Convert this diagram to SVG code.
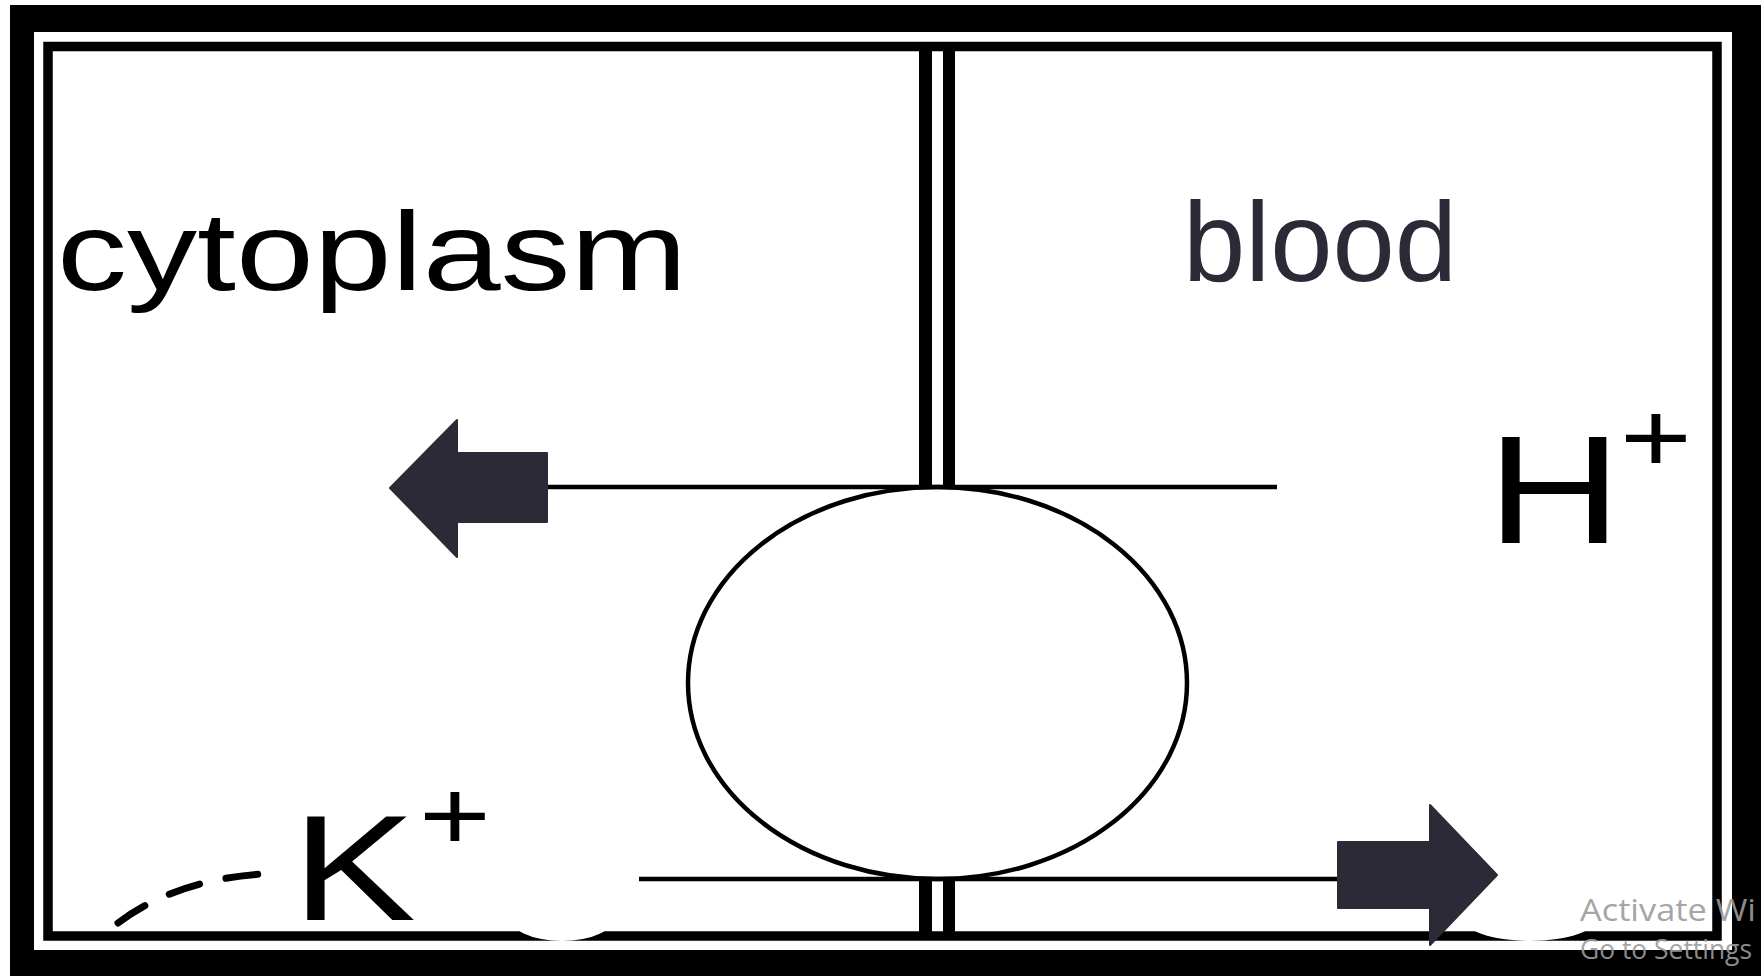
<svg xmlns="http://www.w3.org/2000/svg" width="1764" height="976" viewBox="0 0 1764 976">
  <defs>
    <style>
      .lbl { font-family: "Liberation Sans", Arial, sans-serif; fill: #000; }
      .navy { fill: #2b2a36; }
      .ln { stroke: #000; stroke-width: 4.5; fill: none; }
      .bar { fill: #000; }
      .wm { font-family: "Open Sans", "Liberation Sans", sans-serif; fill: #9c9c9c; }
    </style>
  </defs>
  <rect x="0" y="0" width="1764" height="976" fill="#fff"/>

  <g id="frame">
    <path d="M10,5 H1761 V976 H10 Z M34,32 V950 H1732 V32 Z" fill="#000" fill-rule="evenodd"/>
    <rect x="48" y="46.5" width="1669" height="889.5" fill="none" stroke="#000" stroke-width="9.5"/>
  </g>

  <g id="blobs">
    <ellipse cx="562" cy="915" rx="54" ry="26" fill="#fff"/>
    <ellipse cx="1530" cy="915" rx="70" ry="26" fill="#fff"/>
  </g>

  <g id="membrane">
    <rect class="bar" x="919" y="50" width="13" height="437"/>
    <rect class="bar" x="943" y="50" width="12" height="437"/>
    <rect class="bar" x="919" y="879" width="13" height="54"/>
    <rect class="bar" x="943" y="879" width="12" height="54"/>
  </g>

  <g id="transporter">
    <ellipse cx="937.5" cy="683" rx="249.5" ry="196" fill="#fff" stroke="#000" stroke-width="4.5"/>
  </g>

  <g id="connectors">
    <line class="ln" x1="545" y1="487" x2="1277" y2="487"/>
    <line class="ln" x1="639" y1="879" x2="1340" y2="879"/>
    <polygon class="navy" stroke="#2b2a36" stroke-width="2" stroke-linejoin="round" points="390,488 457,420 457,453 547,453 547,522 457,522 457,557"/>
    <polygon class="navy" stroke="#2b2a36" stroke-width="2" stroke-linejoin="round" points="1338,842 1430,842 1430,805 1497,875 1430,945 1430,908 1338,908"/>
    <path d="M118,923 Q175,880 262,874" fill="none" stroke="#000" stroke-width="7" stroke-dasharray="32 27" stroke-linecap="round"/>
  </g>

  <g id="label-cytoplasm">
    <text class="lbl" font-size="112" transform="translate(57,290) scale(1.25,1)">cytoplasm</text>
  </g>
  <g id="label-blood">
    <text class="lbl navy" font-size="113" x="1183" y="281" textLength="274" lengthAdjust="spacingAndGlyphs">blood</text>
  </g>
  <g id="label-H">
    <text class="lbl" font-size="154" transform="translate(1487,543) scale(1.21,1)">H</text>
    <text class="lbl" font-size="100" transform="translate(1620,472) scale(1.23,1)">+</text>
  </g>
  <g id="label-K">
    <text class="lbl" font-size="151" transform="translate(292,920) scale(1.23,1)">K</text>
    <text class="lbl" font-size="100" transform="translate(419,850) scale(1.23,1)">+</text>
  </g>

  <g id="watermark" opacity="0.9">
    <text class="wm" font-size="31" x="1580" y="921" textLength="176" lengthAdjust="spacingAndGlyphs">Activate Wi</text>
    <text class="wm" font-size="28" x="1580" y="959" textLength="172" lengthAdjust="spacingAndGlyphs">Go to Settings</text>
  </g>
</svg>
